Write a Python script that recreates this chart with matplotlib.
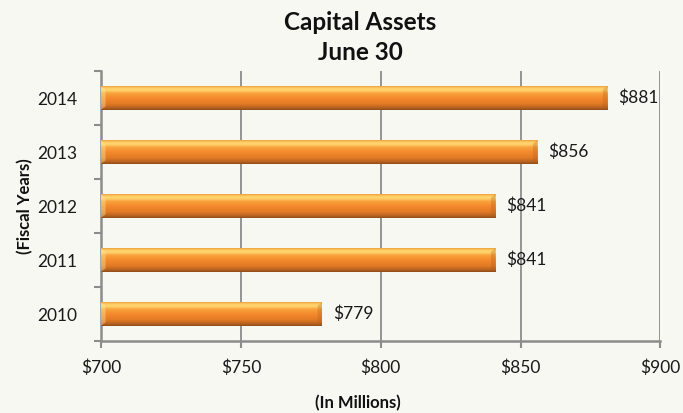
import numpy as np
import matplotlib
matplotlib.use('Agg')
import matplotlib.pyplot as plt
from matplotlib.colors import LinearSegmentedColormap
from matplotlib.patches import Polygon

years = ['2010', '2011', '2012', '2013', '2014']
assets = [779, 841, 841, 856, 881]
value_labels = ['$779', '$841', '$841', '$856', '$881']
x_ticks = [700, 750, 800, 850, 900]
x_tick_labels = ['$700', '$750', '$800', '$850', '$900']

plt.rcParams['font.family'] = ['Lato', 'DejaVu Sans']
bg = '#f8f8f3'
axis_grey = '#8c8c8c'
text_col = '#1a1a1a'

# cylinder-style shading, bottom -> top
bar_cmap = LinearSegmentedColormap.from_list('bar', [
    (0.00, '#8f4e1a'),
    (0.08, '#b5601f'),
    (0.25, '#e27a25'),
    (0.50, '#f48a2c'),
    (0.70, '#f9a23c'),
    (0.84, '#ffd772'),
    (0.93, '#fccb60'),
    (1.00, '#eea040'),
])
shade = np.linspace(0, 1, 64).reshape(-1, 1)

fig = plt.figure(figsize=(6.83, 4.13), dpi=100, facecolor=bg)
ax = fig.add_axes([0.148, 0.174, 0.819, 0.654], facecolor=bg)

ypos = np.arange(len(years))
bar_h = 0.43
bevel = 1.6  # width of the end caps, in data units
bars = ax.barh(ypos, [v - 700 for v in assets], left=700, height=bar_h,
               color='none', edgecolor='none', zorder=3)
for rect, val, lab in zip(bars, assets, value_labels):
    y0 = rect.get_y()
    y1 = y0 + bar_h
    ax.imshow(shade, cmap=bar_cmap, origin='lower', aspect='auto',
              extent=(700, val, y0, y1), zorder=3, interpolation='bilinear')
    # light bevel on the left end, soft dark one on the right end
    ax.add_patch(Polygon([(700, y0), (700, y1), (700 + bevel, y1 - 0.06),
                          (700 + bevel, y0 + 0.06)], closed=True,
                         facecolor='#ffe9a0', alpha=0.4, edgecolor='none',
                         zorder=3.5))
    ax.add_patch(Polygon([(val, y0), (val, y1), (val - bevel, y1 - 0.06),
                          (val - bevel, y0 + 0.06)], closed=True,
                         facecolor='#a85c1e', alpha=0.28, edgecolor='none',
                         zorder=3.5))
    ax.annotate(lab, (val, y0 + bar_h / 2), xytext=(8, 0),
                textcoords='offset points', va='center', ha='left',
                fontsize=12.5, color=text_col, zorder=4)

ax.set_xlim(700, 900)
ax.set_ylim(-0.5, len(years) - 0.5)

ax.set_xticks(x_ticks)
ax.set_xticklabels(x_tick_labels, fontsize=12.5, color=text_col)
ax.set_yticks(ypos)
ax.set_yticklabels(years, fontsize=12.5, color=text_col)
ax.set_yticks(np.arange(-0.5, len(years)), minor=True)
ax.tick_params(axis='y', which='major', length=0, pad=17)
ax.tick_params(axis='y', which='minor', length=5, width=1.5, color=axis_grey,
               direction='out')
ax.tick_params(axis='x', which='major', length=5, width=1.5, color=axis_grey,
               direction='out', pad=8)

ax.grid(axis='x', color=axis_grey, linewidth=1.3, zorder=1)
for side in ['left', 'bottom']:
    ax.spines[side].set_color(axis_grey)
    ax.spines[side].set_linewidth(1.8)
for side in ['top', 'right']:
    ax.spines[side].set_visible(False)

fig.text(0.528, 0.945, 'Capital Assets', ha='center', va='center',
         fontsize=17.5, fontweight='bold', color='#111111')
fig.text(0.528, 0.872, 'June 30', ha='center', va='center',
         fontsize=17.5, fontweight='bold', color='#111111')
fig.text(0.524, 0.025, '(In Millions)', ha='center', va='center',
         fontsize=12, fontweight='bold', color='#111111')
fig.text(0.037, 0.5, '(Fiscal Years)', ha='center', va='center',
         rotation=90, fontsize=12, fontweight='bold', color='#111111')

fig.savefig('out.png', dpi=100, facecolor=bg)
